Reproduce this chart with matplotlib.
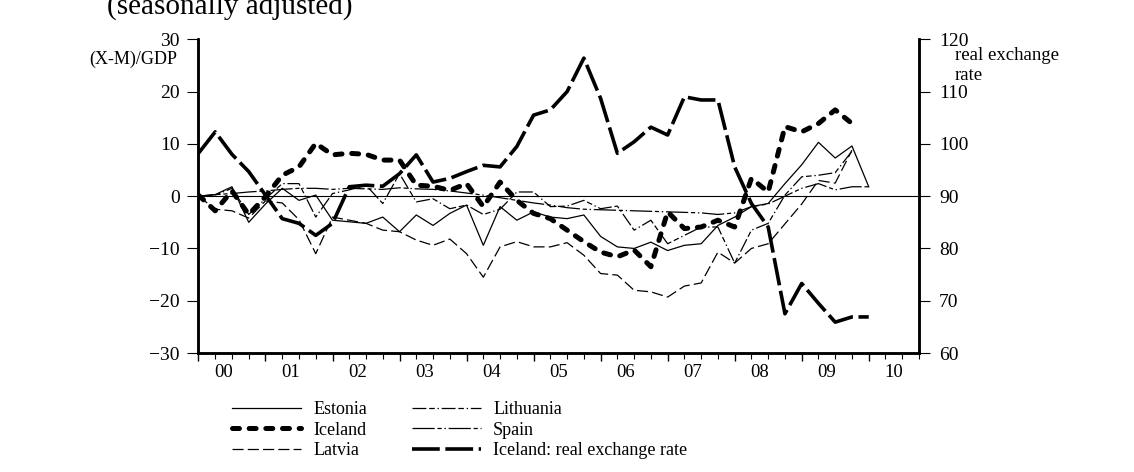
import numpy as np
import matplotlib
matplotlib.use('Agg')
import matplotlib.pyplot as plt
from matplotlib.lines import Line2D

plt.rcParams['font.family'] = ['Liberation Serif', 'DejaVu Serif']
plt.rcParams['lines.scale_dashes'] = False

# quarterly data, 2000Q1 onwards (index 0 = 2000Q1)
year_labels = ['00', '01', '02', '03', '04', '05', '06', '07', '08', '09', '10']

estonia = [0, 0.3, 1.8, -5.0, -1.5, 1.5, -0.8, 0.2, -4.6, -4.9,
           -5.2, -4.0, -6.8, -3.6, -5.6, -3.3, -1.7, -9.4, -2.0, -4.6,
           -3.0, -4.0, -4.3, -3.6, -7.7, -9.7, -10.0, -8.8, -10.4, -9.4,
           -9.1, -5.6, -4.0, -2.0, -1.4, 2.4, 6.0, 10.3, 7.3, 9.6, 1.8]
lithuania = [0, 0.2, 1.5, -3.5, -0.5, 2.4, 2.4, -4.0, 0.5, 1.2,
             2.1, -1.4, 4.3, -1.1, -0.5, -2.4, -1.7, -3.5, -2.5, 0.8,
             0.8, -2.0, -1.9, -0.8, -2.4, -1.9, -6.5, -4.6, -9.1, -7.5,
             -5.9, -5.9, -12.8, -6.5, -5.2, 0.2, 3.7, 4.0, 4.5, 8.6]
latvia = [0, -2.5, -2.8, -4.2, -0.9, -1.3, -4.5, -11.0, -4.0, -4.6,
          -5.2, -6.5, -6.8, -8.4, -9.4, -8.2, -11.0, -15.5, -9.7, -8.7,
          -9.7, -9.7, -8.9, -11.3, -14.8, -15.1, -18.0, -18.3, -19.3, -17.2,
          -16.6, -10.7, -12.8, -10.0, -9.1, -5.3, -1.5, 3.0, 2.5, 8.8]
spain = [0, 0.3, 0.5, 0.8, 1.0, 1.3, 1.5, 1.5, 1.3, 1.5,
         1.4, 1.3, 1.6, 1.4, 1.3, 1.0, 0.6, 0.2, -0.3, -0.8,
         -1.3, -1.7, -2.2, -2.5, -2.6, -2.7, -2.8, -2.9, -3.0, -3.1,
         -3.2, -3.5, -3.2, -2.0, -1.5, 0.0, 1.5, 2.4, 1.2, 1.8, 1.8]
iceland = [0.2, -2.8, 1.0, -3.5, -0.1, 4.0, 5.6, 10.1, 7.9, 8.2,
           8.0, 6.9, 6.9, 2.1, 1.9, 1.1, 2.4, -2.0, 2.7, -0.8,
           -3.3, -4.3, -6.5, -8.7, -10.7, -11.6, -10.3, -13.5, -3.0, -6.2,
           -5.9, -4.6, -5.9, 3.4, 0.8, 13.3, 12.3, 13.9, 16.5, 13.9]
iceland_rer = [98.2, 102.3, 98.0, 94.7, 90.2, 85.7, 84.8, 82.5, 84.8, 91.8,
               92.1, 91.9, 94.3, 97.9, 92.7, 93.4, 94.7, 95.9, 95.6, 99.5,
               105.5, 106.5, 110.0, 116.4, 108.7, 98.2, 100.4, 103.2, 101.7, 109.0,
               108.4, 108.4, 95.6, 88.6, 84.1, 67.5, 73.3, 69.5, 65.9, 66.9, 66.9]

fig = plt.figure(figsize=(11.34, 4.72), dpi=100)
ax = fig.add_axes([0.175, 0.2521, 0.6354, 0.6646])
ax2 = ax.twinx()

ax.axhline(0, color='black', lw=0.8)

styles = {
    'Estonia': dict(color='black', lw=0.9, ls='-'),
    'Lithuania': dict(color='black', lw=0.9, ls=(0, (10, 2, 4, 2, 1, 2))),
    'Latvia': dict(color='black', lw=0.9, ls=(0, (8, 3))),
    'Spain': dict(color='black', lw=0.9, ls=(0, (16, 2, 3, 2, 1, 2))),
    'Iceland': dict(color='black', lw=3.6, ls=(0, (5, 7)), dash_capstyle='round'),
    'Iceland: real exchange rate': dict(color='black', lw=2.6, ls=(0, (20, 4))),
}

ax.plot(np.arange(len(estonia)), estonia, **styles['Estonia'])
ax.plot(np.arange(len(lithuania)), lithuania, **styles['Lithuania'])
ax.plot(np.arange(len(latvia)), latvia, **styles['Latvia'])
ax.plot(np.arange(len(spain)), spain, **styles['Spain'])
ax.plot(np.arange(len(iceland)), iceland, **styles['Iceland'])
ax2.plot(np.arange(len(iceland_rer)), iceland_rer, **styles['Iceland: real exchange rate'])

ax.set_xlim(0, 43)
ax.set_ylim(-30, 30)
ax2.set_ylim(60, 120)
ax.set_yticks(range(-30, 31, 10))
ax2.set_yticks(range(60, 121, 10))

ax.set_xticks(range(0, 44, 4))
ax.set_xticks(range(0, 44), minor=True)
ax.set_xticklabels([])
for k, lab in enumerate(year_labels):
    ax.text(4 * k + 1.5, -0.035, lab, transform=ax.get_xaxis_transform(),
            ha='center', va='top', fontsize=13.5)

for a in (ax, ax2):
    a.spines['top'].set_visible(False)
    for s in ('left', 'right', 'bottom'):
        a.spines[s].set_linewidth(1.8)

ax.tick_params(axis='y', which='major', direction='out', length=8, width=0.8,
               pad=5.5, labelsize=14)
ax2.tick_params(axis='y', which='major', direction='out', length=8, width=0.8,
                pad=6.5, labelsize=14)
ax.tick_params(axis='x', which='major', direction='out', length=6, width=1.0)
ax.tick_params(axis='x', which='minor', direction='out', length=4, width=0.8)

fig.text(177 / 1134, 1 - 59 / 472, '(X-M)/GDP', ha='right', va='center', fontsize=13)
fig.text(955 / 1134, 1 - 55 / 472, 'real exchange', ha='left', va='center', fontsize=13.5)
fig.text(955 / 1134, 1 - 75 / 472, 'rate', ha='left', va='center', fontsize=13.5)
fig.text(107 / 1134, 1 - 14 / 472, '(seasonally adjusted)', ha='left', va='baseline', fontsize=21)

names1 = ['Estonia', 'Iceland', 'Latvia']
names2 = ['Lithuania', 'Spain', 'Iceland: real exchange rate']
for names, x0 in ((names1, 232), (names2, 412)):
    handles = [Line2D([], [], **styles[n]) for n in names]
    fig.legend(handles, names, loc='upper left', bbox_to_anchor=(x0 / 1134, 1 - 401 / 472),
               frameon=False, fontsize=13, handlelength=3.8, handletextpad=0.7,
               labelspacing=0.2, borderpad=0, borderaxespad=0)

fig.savefig('out.png', dpi=100)
